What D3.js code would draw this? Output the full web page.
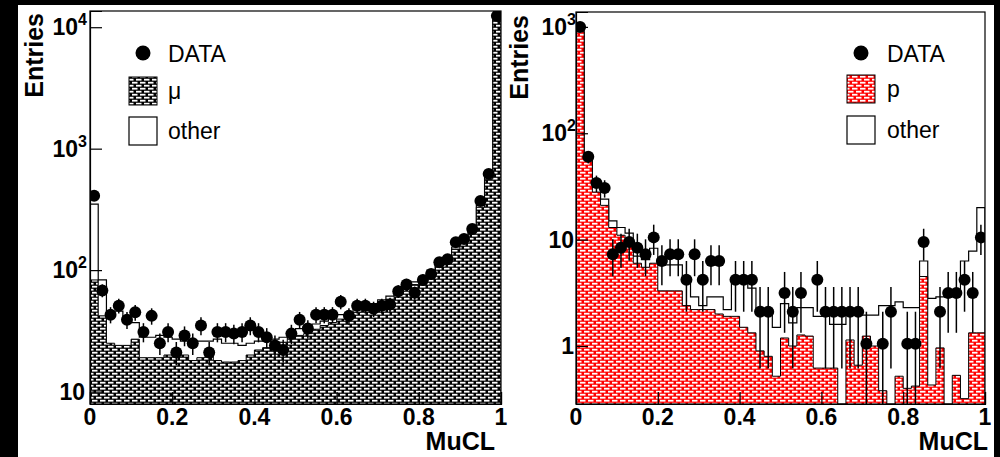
<!DOCTYPE html>
<html><head><meta charset="utf-8">
<script src="https://cdn.jsdelivr.net/npm/d3@7"></script>
<style>body{margin:0;background:#000;} svg{display:block}</style>
</head><body>
<svg id="c" width="1000" height="457"></svg>
<script>
// ---------------- data ----------------
const binCount = 50;
const muclRange = [0, 1];

// left panel: mu selection
const leftData = [410,68,43,51,39,45,31,42,25,31,21,29,25,35,21,31,31,30,31,35,31,28,24,22,30,39,33,43,43,43,55,42,51,51,48,51,52,67,76,65,83,93,116,123,170,180,218,370,620,12400];
const leftMu = [83,42,25,24,24,27,19,19,19,20,21,20,18,19,20,18,17.5,17.5,18,20,22,23,24.5,25.5,28,29,30,32.6,35,37,39.5,42,45,47.6,49.5,54.5,57.6,63,70,76,84,96,110,123,149,177,214,330,560,11500];
const leftOther = [267,41,18,22,16,10,9,9,10,8,6,6,7,7,6,9,7.5,7.5,6,5,4,3,2.5,2.5,2,4,3,3.4,3,3,3.5,3,3,2.4,3.5,2.5,3.4,3,4,4,4,4,4,5,6,7,8,15,25,500];

// right panel: proton selection
const rightData = [1000,60,34,30.5,7.3,8.4,9.5,8.4,7.3,10.5,6.3,7.3,7.3,4.2,7.3,4.2,6.3,6.3,0,4.2,4.2,4.2,2.1,2.1,0,3.15,2.1,3.15,0,4.2,2.1,2.1,2.1,2.1,2.1,1.05,0,1.05,2.1,0,1.05,1.05,9.5,0,2.1,3.15,3.15,4.2,3.15,10.5];
const rightP = [900,55,28,21,13,11,9.5,6,5.5,6,3.3,3.3,3.3,2.4,2.2,2.2,2.2,2.0,1.9,1.9,1.5,1.33,0.9,0.8,0.52,1.19,1.0,1.27,1.24,0.62,0.62,0.62,0,1.14,0.66,1.24,1.0,0.38,0,0.52,0.4,0.42,4.5,0.43,0.96,0,0.53,0.32,1.33,1.33];
const rightOther = [50,5,3,3,2,2,2,1,1,2.3,2.5,2.5,2.5,2.0,0.7,0.2,0.7,0.9,0.3,2.2,2.6,2.17,1.3,1.4,0.98,1.31,0.65,1.03,1.06,1.28,1.28,0.98,1.6,0.86,1.34,0.71,0.95,2.02,2.4,2.08,1.9,1.88,1.8,2.37,1.94,3.0,2.47,5.98,6.47,18.67];
const rightUnit = 1.05; // weight of one entry

const xTickValues = [0, 0.2, 0.4, 0.6, 0.8, 1];
const xTickLabels = ["0", "0.2", "0.4", "0.6", "0.8", "1"];
const leftYTicks = [10, 100, 1000, 10000];
const leftYLabels = [["10", ""], ["10", "2"], ["10", "3"], ["10", "4"]];
const rightYTicks = [1, 10, 100, 1000];
const rightYLabels = [["1", ""], ["10", ""], ["10", "2"], ["10", "3"]];
const xTitle = "MuCL";
const yTitle = "Entries";

// ---------------- drawing ----------------
const svg = d3.select("#c");
const FONT = "'Liberation Sans', Arial, Helvetica, sans-serif";
svg.append("rect").attr("width", 1000).attr("height", 457).attr("fill", "#000");
svg.append("rect").attr("x", 18).attr("y", 5).attr("width", 976).attr("height", 452).attr("fill", "#fff");

const defs = svg.append("defs");
function makePattern(id, bg) {
  const p = defs.append("pattern").attr("id", id).attr("width", 8).attr("height", 6)
    .attr("patternUnits", "userSpaceOnUse");
  p.append("rect").attr("width", 8).attr("height", 6).attr("fill", bg);
  [[0, 0.8], [4, 3.8], [-4, 3.8]].forEach(([px, py]) =>
    p.append("rect").attr("x", px).attr("y", py).attr("width", 5.5).attr("height", 1.8).attr("fill", "#fff"));
}
makePattern("hatchBlack", "#000");
makePattern("hatchRed", "#ff0000");

function panel(cfg) {
  const x = d3.scaleLinear().domain(muclRange).range([cfg.x0, cfg.x1]);
  const y = d3.scaleLog().domain([cfg.ymin, cfg.ymax]).range([cfg.y1, cfg.y0]).clamp(true);
  const g = svg.append("g");
  defs.append("clipPath").attr("id", cfg.id + "clip").append("rect")
    .attr("x", cfg.x0).attr("y", cfg.y0).attr("width", cfg.x1 - cfg.x0).attr("height", cfg.y1 - cfg.y0);
  const plot = g.append("g").attr("clip-path", `url(#${cfg.id}clip)`);
  const binW = (muclRange[1] - muclRange[0]) / binCount;
  const lo = i => muclRange[0] + i * binW;

  function stepPath(vals) {
    const pts = [[lo(0), cfg.ymin]];
    vals.forEach((v, i) => { pts.push([lo(i), v]); pts.push([lo(i + 1), v]); });
    pts.push([lo(binCount), cfg.ymin]);
    return d3.line().x(d => x(d[0])).y(d => y(Math.max(d[1], cfg.ymin)))(pts);
  }
  const total = cfg.comp.map((v, i) => v + cfg.other[i]);
  plot.append("path").attr("d", stepPath(total)).attr("fill", "#fff").attr("stroke", "#000").attr("stroke-width", 1.2);
  plot.append("path").attr("d", stepPath(cfg.comp)).attr("fill", `url(#${cfg.pattern})`).attr("stroke", "#000").attr("stroke-width", 1);

  const pts = cfg.data.map((v, i) => ({ v, i })).filter(d => d.v > 0);
  const err = d => Math.sqrt(d.v * cfg.unit);
  plot.selectAll("line.ev").data(pts).join("line").attr("class", "ev")
    .attr("x1", d => x(lo(d.i) + binW / 2)).attr("x2", d => x(lo(d.i) + binW / 2))
    .attr("y1", d => y(Math.max(d.v - err(d), cfg.ymin))).attr("y2", d => y(d.v + err(d)))
    .attr("stroke", "#000").attr("stroke-width", 1.5);
  plot.selectAll("line.eh").data(pts).join("line").attr("class", "eh")
    .attr("x1", d => x(lo(d.i))).attr("x2", d => x(lo(d.i + 1)))
    .attr("y1", d => y(d.v)).attr("y2", d => y(d.v))
    .attr("stroke", "#000").attr("stroke-width", 1.5);
  plot.selectAll("circle.pt").data(pts).join("circle").attr("class", "pt")
    .attr("cx", d => x(lo(d.i) + binW / 2)).attr("cy", d => y(d.v)).attr("r", 6).attr("fill", "#000");

  // frame
  g.append("rect").attr("x", cfg.x0).attr("y", cfg.y0).attr("width", cfg.x1 - cfg.x0).attr("height", cfg.y1 - cfg.y0)
    .attr("fill", "none").attr("stroke", "#000").attr("stroke-width", 1.2);

  // axes ticks
  const yMinor = y.ticks().filter(t => Math.abs(Math.log10(t) - Math.round(Math.log10(t))) > 1e-6);
  const axL = g.append("g").attr("transform", `translate(${cfg.x0},0)`);
  axL.call(d3.axisLeft(y).tickValues(yMinor).tickSize(-6).tickFormat(""));
  axL.call(d3.axisLeft(y).tickValues(cfg.yTicks).tickSize(-12).tickFormat(""));
  const xMinor = d3.range(0, 21).map(k => k * 0.05);
  const axB = g.append("g").attr("transform", `translate(0,${cfg.y1})`);
  axB.call(d3.axisBottom(x).tickValues(xMinor).tickSize(-6).tickFormat(""));
  axB.call(d3.axisBottom(x).tickValues(xTickValues).tickSize(-12).tickFormat(""));
  g.selectAll(".domain").attr("stroke-width", 1.2);
  g.selectAll(".tick line").attr("stroke-width", 1.2);

  // tick labels
  g.selectAll("text.xl").data(xTickValues).join("text").attr("class", "xl")
    .attr("x", d => x(d)).attr("y", cfg.y1 + 21).attr("text-anchor", "middle")
    .attr("font-family", FONT).attr("font-weight", "bold").attr("font-size", 23).text((d, i) => xTickLabels[i]);
  cfg.yTicks.forEach((t, i) => {
    const [base, sup] = cfg.yLabels[i];
    const tx = g.append("text").attr("x", sup ? cfg.labelEnd : cfg.labelEnd - 2).attr("y", y(t) + 8).attr("text-anchor", "end")
      .attr("font-family", FONT).attr("font-weight", "bold").attr("font-size", 23);
    tx.append("tspan").text(base);
    if (sup) tx.append("tspan").attr("font-size", 16).attr("dy", -10).text(sup);
  });
  // titles
  g.append("text").attr("transform", `translate(${cfg.yTitleX},${cfg.yTitleY}) rotate(-90)`).attr("text-anchor", "end")
    .attr("font-family", FONT).attr("font-weight", "bold").attr("font-size", 25).text(yTitle);
  g.append("text").attr("x", cfg.xTitleEnd).attr("y", 450).attr("text-anchor", "end")
    .attr("font-family", FONT).attr("font-weight", "bold").attr("font-size", 25).text(xTitle);

  // legend
  const L = cfg.legend;
  g.append("circle").attr("cx", L.bx + 14).attr("cy", L.y0 - 9).attr("r", 7.5).attr("fill", "#000");
  g.append("rect").attr("x", L.bx).attr("y", L.y1 - 22).attr("width", 28).attr("height", 28)
    .attr("fill", `url(#${cfg.pattern})`).attr("stroke", "#000").attr("stroke-width", 1);
  g.append("rect").attr("x", L.bx).attr("y", L.y2 - 22).attr("width", 28).attr("height", 28)
    .attr("fill", "#fff").attr("stroke", "#000").attr("stroke-width", 1.2);
  [[L.y0, "DATA"], [L.y1, cfg.compLabel], [L.y2, "other"]].forEach(([yy, t]) =>
    g.append("text").attr("x", L.tx).attr("y", yy).attr("font-family", FONT).attr("font-size", 23).text(t));
}

panel({ id: "L", x0: 90, x1: 501, y0: 11, y1: 404, ymin: 7.9, ymax: 13600,
  data: leftData, comp: leftMu, other: leftOther, unit: 1, pattern: "hatchBlack", compLabel: "μ",
  yTicks: leftYTicks, yLabels: leftYLabels, labelEnd: 87, yTitleX: 43, yTitleY: 13, xTitleEnd: 495,
  legend: { bx: 129, tx: 168, y0: 62, y1: 99, y2: 139 } });
panel({ id: "R", x0: 576, x1: 985, y0: 12, y1: 404, ymin: 0.285, ymax: 1380,
  data: rightData, comp: rightP, other: rightOther, unit: rightUnit, pattern: "hatchRed", compLabel: "p",
  yTicks: rightYTicks, yLabels: rightYLabels, labelEnd: 576, yTitleX: 528, yTitleY: 15, xTitleEnd: 988,
  legend: { bx: 847, tx: 887, y0: 62, y1: 97, y2: 138 } });
</script>
</body></html>
